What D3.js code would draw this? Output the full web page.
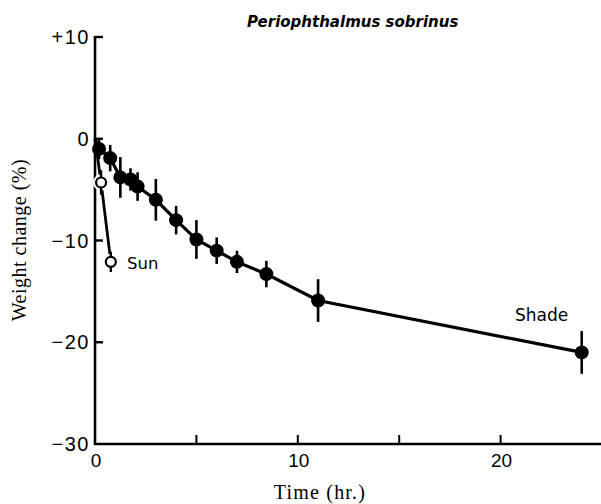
<!DOCTYPE html>
<html><head><meta charset="utf-8">
<script src="https://cdn.jsdelivr.net/npm/d3@7"></script>
<style>body{margin:0;background:#fff}</style>
</head><body>
<svg id="c" width="601" height="504"></svg>
<script>
const title = "Periophthalmus sobrinus";
const xTicks = [0, 5, 10, 15, 20];
const xTickLabels = ["0", "", "10", "", "20"];
const yTicks = [10, 0, -10, -20, -30];
const yTickLabels = ["+10", "0", "\u221210", "\u221220", "\u221230"];

const shadeTime  = [0, 0.2, 0.75, 1.25, 1.75, 2.1, 3, 4, 5, 6, 7, 8.45, 11, 24];
const shadeValue = [0, -1, -1.9, -3.8, -4, -4.7, -6, -8, -9.9, -11, -12.1, -13.3, -15.9, -21];
const shadeErr   = [0, 1, 1.3, 2, 1.1, 1.4, 2.05, 1.4, 1.9, 1.3, 1.1, 1.3, 2.1, 2.1];

const sunTime  = [0, 0.3, 0.78];
const sunValue = [0, -4.3, -12.1];
const sunErr   = [0, 1.2, 1.0];

const svg = d3.select("#c");
const x = d3.scaleLinear().domain([0, 25]).range([95, 602]);
const y = d3.scaleLinear().domain([-30, 10]).range([444, 37]);
const sans = "Liberation Sans, Arial, sans-serif";
const serif = "Liberation Serif, DejaVu Serif, serif";

// axes
svg.append("line").attr("x1", x(0)).attr("x2", x(0)).attr("y1", y(10)-1).attr("y2", y(-30)+1)
  .attr("stroke", "#000").attr("stroke-width", 2.6);
svg.append("line").attr("x1", x(0)-1).attr("x2", 601).attr("y1", y(-30)).attr("y2", y(-30))
  .attr("stroke", "#000").attr("stroke-width", 2.6);

// y ticks (inward)
yTicks.forEach((v, i) => {
  if (v !== -30) {
    svg.append("line").attr("x1", x(0)).attr("x2", x(0) + 8).attr("y1", y(v)).attr("y2", y(v))
      .attr("stroke", "#000").attr("stroke-width", 2.4);
  }
  svg.append("text").attr("x", x(0) - 5).attr("y", y(v)).attr("dy", "0.36em")
    .attr("text-anchor", "end").attr("font-family", sans).attr("letter-spacing", 1.5)
    .attr("font-size", 20).text(yTickLabels[i]);
});
// x ticks (inward)
xTicks.forEach((v, i) => {
  if (v !== 0) {
    svg.append("line").attr("x1", x(v)).attr("x2", x(v)).attr("y1", y(-30)).attr("y2", y(-30) - 9)
      .attr("stroke", "#000").attr("stroke-width", 2);
  }
  if (xTickLabels[i]) {
    svg.append("text").attr("x", x(v) + 1).attr("y", 467)
      .attr("text-anchor", "middle").attr("font-family", sans)
      .attr("font-size", 19).text(xTickLabels[i]);
  }
});

// axis titles
svg.append("text").attr("x", 320).attr("y", 499).attr("text-anchor", "middle")
  .attr("font-family", serif).attr("font-size", 20).attr("letter-spacing", 1.2).text("Time (hr.)");
svg.append("text").attr("transform", "translate(26,240) rotate(-90)").attr("text-anchor", "middle")
  .attr("font-family", serif).attr("font-size", 20).attr("letter-spacing", 0.5).text("Weight change (%)");
svg.append("text").attr("x", 247).attr("y", 27).attr("font-family", "DejaVu Sans, sans-serif")
  .attr("font-style", "italic").attr("font-weight", "bold").attr("font-size", 15).text(title);

const line = d3.line().x(d => x(d.t)).y(d => y(d.v));
const shade = shadeTime.map((t, i) => ({t, v: shadeValue[i], e: shadeErr[i]}));
const sun = sunTime.map((t, i) => ({t, v: sunValue[i], e: sunErr[i]}));

// sun series
svg.append("path").datum(sun).attr("d", line).attr("fill", "none").attr("stroke", "#000").attr("stroke-width", 2.8);
const sunPts = sun.filter(d => d.t > 0);
svg.selectAll(".sunhalo").data(sunPts).join("circle")
  .attr("cx", d => x(d.t)).attr("cy", d => y(d.v)).attr("r", 8).attr("fill", "#fff");
svg.selectAll(".sunerr").data(sunPts).join("line")
  .attr("x1", d => x(d.t)).attr("x2", d => x(d.t)).attr("y1", d => y(d.v + d.e)).attr("y2", d => y(d.v - d.e))
  .attr("stroke", "#000").attr("stroke-width", 2.4);
svg.selectAll(".sunpt").data(sunPts).join("circle")
  .attr("cx", d => x(d.t)).attr("cy", d => y(d.v)).attr("r", 5)
  .attr("fill", "#fff").attr("stroke", "#000").attr("stroke-width", 2.2);

// shade series
svg.append("path").datum(shade).attr("d", line).attr("fill", "none").attr("stroke", "#000").attr("stroke-width", 3.2);
const shadePts = shade.filter(d => d.t > 0);
svg.selectAll(".shadeerr").data(shadePts).join("line")
  .attr("x1", d => x(d.t)).attr("x2", d => x(d.t)).attr("y1", d => y(d.v + d.e)).attr("y2", d => y(d.v - d.e))
  .attr("stroke", "#000").attr("stroke-width", 2.6);
svg.selectAll(".shadept").data(shadePts).join("circle")
  .attr("cx", d => x(d.t)).attr("cy", d => y(d.v)).attr("r", 7).attr("fill", "#000");

// labels
svg.append("text").attr("x", 127).attr("y", 269).attr("font-family", "DejaVu Sans, sans-serif")
  .attr("font-size", 16.5).text("Sun");
svg.append("text").attr("x", 515).attr("y", 321).attr("font-family", "DejaVu Sans, sans-serif")
  .attr("font-size", 17).text("Shade");
</script>
</body></html>
